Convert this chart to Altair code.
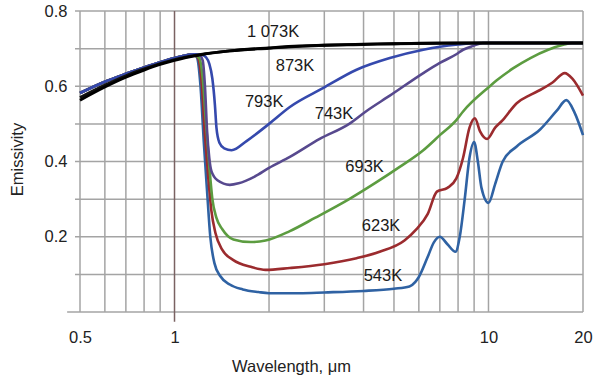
import altair as alt
import pandas as pd

# ---- data ----
head_w = [0.5, 0.6, 0.7, 0.8, 0.9, 1.0, 1.1, 1.15]
head_e = [0.582, 0.612, 0.633, 0.65, 0.664, 0.675, 0.683, 0.685]

w_543 = head_w + [1.18, 1.21, 1.24, 1.27, 1.30, 1.34, 1.40, 1.5, 1.65, 1.85, 2.0, 2.5, 3.0, 4.0, 5.0, 5.6, 5.85, 6.0, 6.4, 6.7, 7.0, 7.4, 7.85, 8.1, 8.4, 8.7, 9.0, 9.25, 9.5, 10.0, 10.5, 11.1, 12.3, 14.6, 16.5, 17.7, 18.8, 20.0]
e_543 = head_e + [0.676, 0.6, 0.45, 0.32, 0.2, 0.13, 0.095, 0.073, 0.06, 0.053, 0.05, 0.05, 0.052, 0.056, 0.062, 0.068, 0.08, 0.093, 0.146, 0.185, 0.2, 0.18, 0.16, 0.2, 0.3, 0.41, 0.452, 0.4, 0.33, 0.29, 0.34, 0.4, 0.44, 0.485, 0.535, 0.563, 0.53, 0.47]

w_623 = head_w + [1.19, 1.22, 1.25, 1.28, 1.31, 1.35, 1.42, 1.54, 1.75, 1.95, 2.33, 3.0, 3.8, 4.5, 5.4, 5.9, 6.4, 6.85, 7.4, 7.9, 8.3, 8.7, 9.05, 9.4, 9.9, 10.5, 11.1, 12.3, 13.6, 14.6, 16.0, 17.5, 18.5, 20.0]
e_623 = head_e + [0.674, 0.61, 0.47, 0.36, 0.27, 0.21, 0.165, 0.138, 0.12, 0.112, 0.117, 0.127, 0.143, 0.16, 0.19, 0.22, 0.26, 0.32, 0.33, 0.355, 0.41, 0.49, 0.515, 0.48, 0.46, 0.49, 0.51, 0.555, 0.577, 0.59, 0.61, 0.635, 0.62, 0.575]

w_693 = head_w + [1.2, 1.23, 1.26, 1.29, 1.32, 1.36, 1.42, 1.54, 1.75, 1.95, 2.33, 2.8, 3.6, 4.4, 5.2, 6.2, 7.0, 7.9, 8.3, 10.1, 10.6, 12.0, 13.6, 15.5, 17.3, 18.5, 20.0]
e_693 = head_e + [0.674, 0.62, 0.5, 0.39, 0.3, 0.25, 0.22, 0.193, 0.186, 0.19, 0.215, 0.25, 0.3, 0.345, 0.385, 0.43, 0.47, 0.51, 0.533, 0.6, 0.615, 0.648, 0.675, 0.697, 0.71, 0.715, 0.715]

w_743 = head_w + [1.2, 1.23, 1.25, 1.27, 1.29, 1.31, 1.37, 1.5, 1.6, 1.8, 2.0, 2.33, 2.9, 3.6, 4.1, 4.85, 6.2, 7.0, 7.9, 8.3, 9.0, 9.6, 20.0]
e_743 = head_e + [0.683, 0.668, 0.6, 0.48, 0.41, 0.375, 0.35, 0.338, 0.342, 0.36, 0.383, 0.412, 0.46, 0.5, 0.535, 0.575, 0.635, 0.662, 0.685, 0.697, 0.708, 0.715, 0.715]

w_793 = head_w + [1.22, 1.26, 1.29, 1.32, 1.345, 1.36, 1.39, 1.44, 1.52, 1.7, 2.0, 2.33, 2.97, 3.8, 4.85, 6.2, 7.0, 8.0, 9.4, 20.0]
e_793 = head_e + [0.684, 0.677, 0.66, 0.62, 0.55, 0.49, 0.45, 0.435, 0.43, 0.455, 0.5, 0.545, 0.595, 0.644, 0.675, 0.697, 0.705, 0.711, 0.715, 0.715]

w_873 = [0.5, 0.6, 0.7, 0.8, 0.9, 1.0, 1.2, 1.5, 2.0, 2.5, 3.0, 4.0, 5.0, 7.0, 10.0, 15.0, 20.0]
e_873 = [0.57, 0.603, 0.628, 0.646, 0.66, 0.671, 0.684, 0.694, 0.701, 0.706, 0.709, 0.711, 0.713, 0.714, 0.715, 0.715, 0.715]

w_1073 = [0.5, 0.6, 0.7, 0.8, 0.9, 1.0, 1.2, 1.5, 2.0, 2.5, 3.0, 4.0, 5.0, 7.0, 10.0, 15.0, 20.0]
e_1073 = [0.563, 0.598, 0.624, 0.643, 0.658, 0.669, 0.683, 0.694, 0.702, 0.707, 0.709, 0.712, 0.713, 0.715, 0.715, 0.715, 0.715]

series_names = ["543K", "623K", "693K", "743K", "793K", "873K", "1 073K"]
series_colors = ["#2f62a3", "#9b2b2e", "#5c9c40", "#57498e", "#3549ad", "#111111", "#000000"]
series_w = [w_543, w_623, w_693, w_743, w_793, w_873, w_1073]
series_e = [e_543, e_623, e_693, e_743, e_793, e_873, e_1073]

label_text = ["1 073K", "873K", "793K", "743K", "693K", "623K", "543K"]
label_w = [2.06, 2.42, 1.93, 3.22, 4.03, 4.55, 4.61]
label_e = [0.745, 0.655, 0.558, 0.527, 0.385, 0.229, 0.096]

x_grid = [0.5, 0.6, 0.7, 0.8, 0.9, 2, 3, 4, 5, 6, 7, 8, 9, 10, 20]
x_labels = [0.5, 1, 10, 20]
y_grid = [0, 0.1, 0.2, 0.3, 0.4, 0.5, 0.6, 0.7, 0.8]
y_labels = [0.2, 0.4, 0.6, 0.8]
grid_left = [0.455, 0.482, 0.482, 0.482, 0.482, 0.482, 0.482, 0.482, 0.482]
grid_right = 20

# ---- build tables ----
rows = []
for name, ws, es in zip(series_names, series_w, series_e):
    for w, e in zip(ws, es):
        rows.append({"series": name, "w": w, "e": e})
df = pd.DataFrame(rows)
df_col = df[df.series.isin(series_names[:5])].reset_index(drop=True)
df_blk = df[df.series.isin(series_names[5:])].reset_index(drop=True)
labels_df = pd.DataFrame({"t": label_text, "w": label_w, "e": label_e})
hl_rows = []
for i, (yv, xl) in enumerate(zip(y_grid, grid_left)):
    hl_rows.append({"g": "h%d" % i, "w": xl, "e": yv})
    hl_rows.append({"g": "h%d" % i, "w": grid_right, "e": yv})
hgrid_df = pd.DataFrame(hl_rows)
vgrid_df = pd.DataFrame({"w": x_grid})

FONT = "Liberation Sans"
GRID = "#a4a4a4"

xscale = alt.Scale(type="log", domain=[0.5, 20], nice=False)
yscale = alt.Scale(domain=[0, 0.8], nice=False)
cscale = alt.Scale(domain=series_names, range=series_colors)

x_axis = alt.Axis(
    values=x_labels, format="~g", ticks=False, domain=False, grid=False,
    labelPadding=17, labelFont=FONT, labelFontSize=16.5, labelColor="#222", labelFlush=False,
    title="Wavelength, μm", titleFont=FONT, titleFontSize=16.5, titleFontWeight="normal",
    titleColor="#222", titleX=211, titleY=59, titleBaseline="alphabetic", titleAlign="center")
y_axis = alt.Axis(
    values=y_labels, format=".1f", ticks=False, domain=False, grid=False,
    labelPadding=13, labelFont=FONT, labelFontSize=16.5, labelColor="#222",
    title="Emissivity", titleFont=FONT, titleFontSize=16.5, titleFontWeight="normal",
    titleColor="#222", titleX=-63, titleY=148, titleAngle=-90, titleBaseline="middle", titleAlign="center")

# horizontal grid as short paths (they reach a little left of the plot)
hgrid = alt.Chart(hgrid_df).mark_line(color=GRID, strokeWidth=1.5).encode(
    x=alt.X("w:Q", scale=xscale), y=alt.Y("e:Q", scale=yscale), detail="g:N")
vgrid = alt.Chart(vgrid_df).mark_rule(color=GRID, strokeWidth=1.5).encode(
    x=alt.X("w:Q", scale=xscale))
# darker line at 1 µm reaching slightly below the axis
one_line = alt.Chart(pd.DataFrame({"w": [1], "top": [0.8], "bot": [-0.026]})).mark_rule(
    color="#7a6262", strokeWidth=1.5).encode(
    x=alt.X("w:Q", scale=xscale), y=alt.Y("top:Q", scale=yscale), y2="bot:Q")

base = alt.Chart(df_col).mark_line(strokeWidth=2.6, interpolate="monotone").encode(
    x=alt.X("w:Q", scale=xscale, axis=x_axis),
    y=alt.Y("e:Q", scale=yscale, axis=y_axis),
    color=alt.Color("series:N", scale=cscale, legend=None))

black = alt.Chart(df_blk).mark_line(strokeWidth=2.8, interpolate="monotone").encode(
    x=alt.X("w:Q", scale=xscale), y=alt.Y("e:Q", scale=yscale),
    color=alt.Color("series:N", scale=cscale, legend=None))

texts = alt.Chart(labels_df).mark_text(font=FONT, fontSize=16.5, color="#1a1a1a", align="center", baseline="middle").encode(
    x=alt.X("w:Q", scale=xscale), y=alt.Y("e:Q", scale=yscale), text="t:N")

chart = alt.layer(vgrid, hgrid, one_line, base, black, texts).properties(
    width=503, height=301, autosize="none",
    padding={"left": 80, "top": 11, "right": 10, "bottom": 73},
    background="white"
).configure_view(stroke=None)

chart.save("out.html", embed_options={"renderer": "svg", "actions": False})
